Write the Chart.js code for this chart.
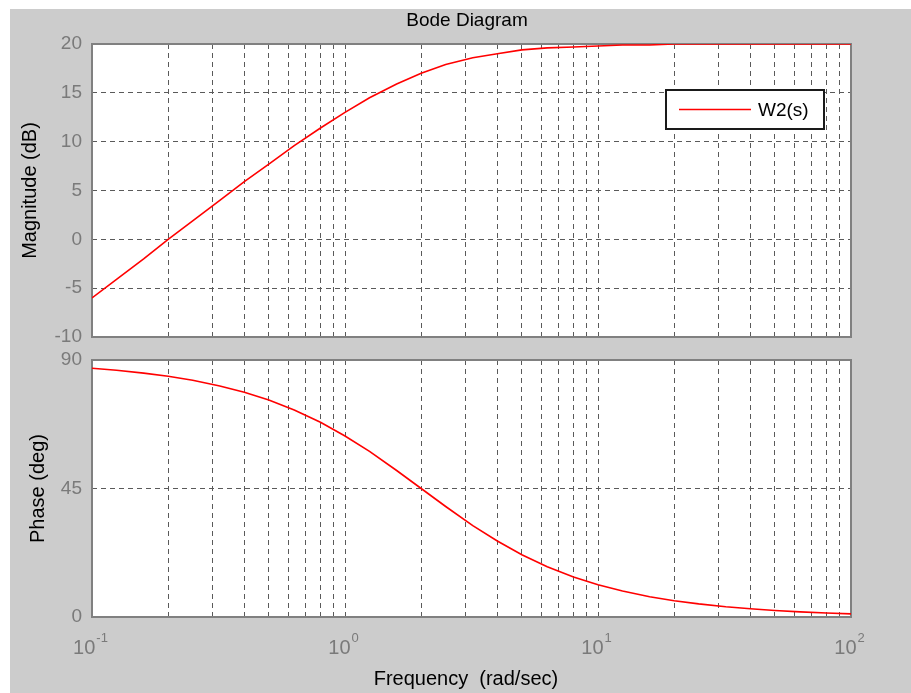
<!DOCTYPE html>
<html>
<head>
<meta charset="utf-8">
<script src="https://cdn.jsdelivr.net/npm/chart.js@4.4.1/dist/chart.umd.min.js"></script>
<style>
  html, body { margin:0; padding:0; background:#ffffff; width:911px; height:693px; overflow:hidden; }
  #bg { position:absolute; left:10px; top:9px; right:0; bottom:0; background:#cccccc; }
  canvas { position:absolute; left:0; }
</style>
</head>
<body>
<div id="bg"></div>
<canvas id="magChart" width="911" height="349" style="top:0px"></canvas>
<canvas id="phaseChart" width="911" height="344" style="top:349px"></canvas>
<script>
// ---- data ----
const freq      = [0.1, 0.125, 0.16, 0.2, 0.25, 0.32, 0.4, 0.5, 0.63, 0.8, 1, 1.25, 1.6, 2, 2.5, 3.2, 4, 5, 6.3, 8, 10, 12.5, 16, 20, 25, 32, 40, 50, 63, 80, 100];
const magDb     = [-6.0, -4.1, -2.0, 0.0, 1.9, 4.0, 5.9, 7.7, 9.6, 11.4, 13.0, 14.5, 15.9, 17.0, 17.9, 18.6, 19.0, 19.4, 19.6, 19.7, 19.8, 19.9, 19.9, 20.0, 20.0, 20.0, 20.0, 20.0, 20.0, 20.0, 20.0];
const phaseDeg  = [87.1, 86.4, 85.4, 84.3, 82.9, 80.9, 78.7, 76.0, 72.5, 68.2, 63.4, 58.0, 51.3, 45.0, 38.7, 32.0, 26.6, 21.8, 17.6, 14.0, 11.3, 9.1, 7.1, 5.7, 4.6, 3.6, 2.9, 2.3, 1.8, 1.4, 1.1];
const gridFreqs = [0.1,0.2,0.3,0.4,0.5,0.6,0.7,0.8,0.9,1,2,3,4,5,6,7,8,9,10,20,30,40,50,60,70,80,90,100];
const decadeValues    = [0.1, 1, 10, 100];
const decadeExponents = ['-1', '0', '1', '2'];
const magTicks   = [-10, -5, 0, 5, 10, 15, 20];
const phaseTicks = [0, 45, 90];
const seriesName = 'W2(s)';
const chartTitle = 'Bode Diagram';
const magTitle   = 'Magnitude (dB)';
const phaseTitle = 'Phase (deg)';
const freqTitle  = 'Frequency  (rad/sec)  ';

// ---- styles ----
const FONT = '"Liberation Sans", Arial, sans-serif';
const TICKC = '#7a7a7a';
const GRIDC = '#5a5a5a';
const BORDERC = '#808080';
const LINEC = '#ff0000';

const plotFrame = {
  id: 'plotFrame',
  beforeDraw(c) {
    const a = c.chartArea, x = c.ctx;
    x.save(); x.fillStyle = '#ffffff';
    x.fillRect(a.left, a.top, a.right - a.left, a.bottom - a.top);
    x.restore();
  },
  beforeDatasetsDraw(c) {
    const a = c.chartArea, x = c.ctx;
    x.save(); x.strokeStyle = BORDERC; x.lineWidth = 2;
    x.strokeRect(a.left, a.top, a.right - a.left, a.bottom - a.top);
    x.restore();
  }
};

const boxLegend = {
  id: 'boxLegend',
  afterDatasetsDraw(c) {
    const a = c.chartArea, x = c.ctx, ds = c.data.datasets[0];
    const w = 158, h = 39, r = a.right - 27, t = a.top + 46, l = r - w;
    x.save();
    x.fillStyle = '#ffffff'; x.fillRect(l, t, w, h);
    x.strokeStyle = '#1a1a1a'; x.lineWidth = 2; x.strokeRect(l, t, w, h);
    const cy = t + h / 2;
    x.strokeStyle = ds.borderColor; x.lineWidth = 1.5;
    x.beginPath(); x.moveTo(l + 13, cy); x.lineTo(l + 85, cy); x.stroke();
    x.fillStyle = '#000000'; x.font = '19px ' + FONT;
    x.textBaseline = 'middle'; x.textAlign = 'left';
    x.fillText(ds.label, l + 92, cy + 1);
    x.restore();
  }
};

const decadeLabels = {
  id: 'decadeLabels',
  afterDraw(c) {
    const s = c.scales.x, x = c.ctx;
    x.save(); x.fillStyle = TICKC; x.textBaseline = 'alphabetic'; x.textAlign = 'left';
    decadeValues.forEach((v, i) => {
      const px = s.getPixelForValue(v);
      x.font = '20px ' + FONT; const w1 = x.measureText('10').width;
      x.font = '13px ' + FONT; const w2 = x.measureText(decadeExponents[i]).width;
      const W = w1 + 1 + w2, start = px - 1.5 - W / 2;
      x.font = '20px ' + FONT; x.fillText('10', start, s.top + 37);
      x.font = '13px ' + FONT; x.fillText(decadeExponents[i], start + w1 + 1, s.top + 24.5);
    });
    x.restore();
  }
};

function xScale(height, showTitle) {
  return {
    type: 'logarithmic', position: 'bottom', min: 0.1, max: 100,
    afterBuildTicks: s => { s.ticks = gridFreqs.map(v => ({ value: v })); },
    afterFit: s => { s.height = height; s.paddingLeft = 0; s.paddingRight = 0; },
    ticks: { display: false, autoSkip: false },
    grid: { color: GRIDC, lineWidth: 1, drawTicks: false },
    border: { display: false, dash: [5, 4] },
    title: showTitle ? { display: true, text: freqTitle, color: '#000000',
      font: { family: FONT, size: 20, lineHeight: 1.2 }, padding: { top: 0, bottom: 1.5 } } : { display: false }
  };
}

function yScale(min, max, tickVals, titleText, titlePadTop) {
  return {
    position: 'left', min: min, max: max,
    afterBuildTicks: s => { s.ticks = tickVals.map(v => ({ value: v })); },
    afterFit: s => { s.width = 69; s.paddingTop = 0; s.paddingBottom = 0; },
    ticks: { color: TICKC, font: { family: FONT, size: 19, lineHeight: 1 }, padding: 10, autoSkip: false },
    grid: { color: GRIDC, lineWidth: 1, drawTicks: false },
    border: { display: false, dash: [5, 4] },
    title: { display: true, text: titleText, color: '#000000',
      font: { family: FONT, size: 20, lineHeight: 1.2 }, padding: { top: titlePadTop, bottom: 0 } }
  };
}

new Chart(document.getElementById('magChart'), {
  type: 'line',
  data: { datasets: [{ label: seriesName, xAxisID: 'x', yAxisID: 'y',
    data: freq.map((f, i) => ({ x: f, y: magDb[i] })),
    borderColor: LINEC, borderWidth: 1.6, pointRadius: 0, tension: 0, fill: false }] },
  options: {
    responsive: false, animation: false, events: [],
    layout: { padding: { left: 23, right: 0, top: 0, bottom: 0 } },
    plugins: {
      legend: { display: false }, tooltip: { enabled: false },
      title: { display: true, text: chartTitle, color: '#000000',
        font: { family: FONT, size: 19, weight: 'normal', lineHeight: 1.2 }, padding: { top: 9, bottom: 12.2 } }
    },
    scales: {
      x: xScale(12, false),
      y: yScale(-10, 20, magTicks, magTitle, -5),
      yR: { position: 'right', display: true, afterFit: s => { s.width = 60; s.paddingTop = 0; s.paddingBottom = 0; },
        ticks: { display: false }, grid: { display: false }, border: { display: false } }
    }
  },
  plugins: [plotFrame, boxLegend]
});

new Chart(document.getElementById('phaseChart'), {
  type: 'line',
  data: { datasets: [{ label: seriesName, xAxisID: 'x', yAxisID: 'y',
    data: freq.map((f, i) => ({ x: f, y: phaseDeg[i] })),
    borderColor: LINEC, borderWidth: 1.6, pointRadius: 0, tension: 0, fill: false }] },
  options: {
    responsive: false, animation: false, events: [],
    layout: { padding: { left: 23, right: 60, top: 11, bottom: 0 } },
    plugins: { legend: { display: false }, tooltip: { enabled: false }, title: { display: false } },
    scales: {
      x: xScale(76, true),
      y: yScale(0, 90, phaseTicks, phaseTitle, 3)
    }
  },
  plugins: [plotFrame, decadeLabels]
});
</script>
</body>
</html>
